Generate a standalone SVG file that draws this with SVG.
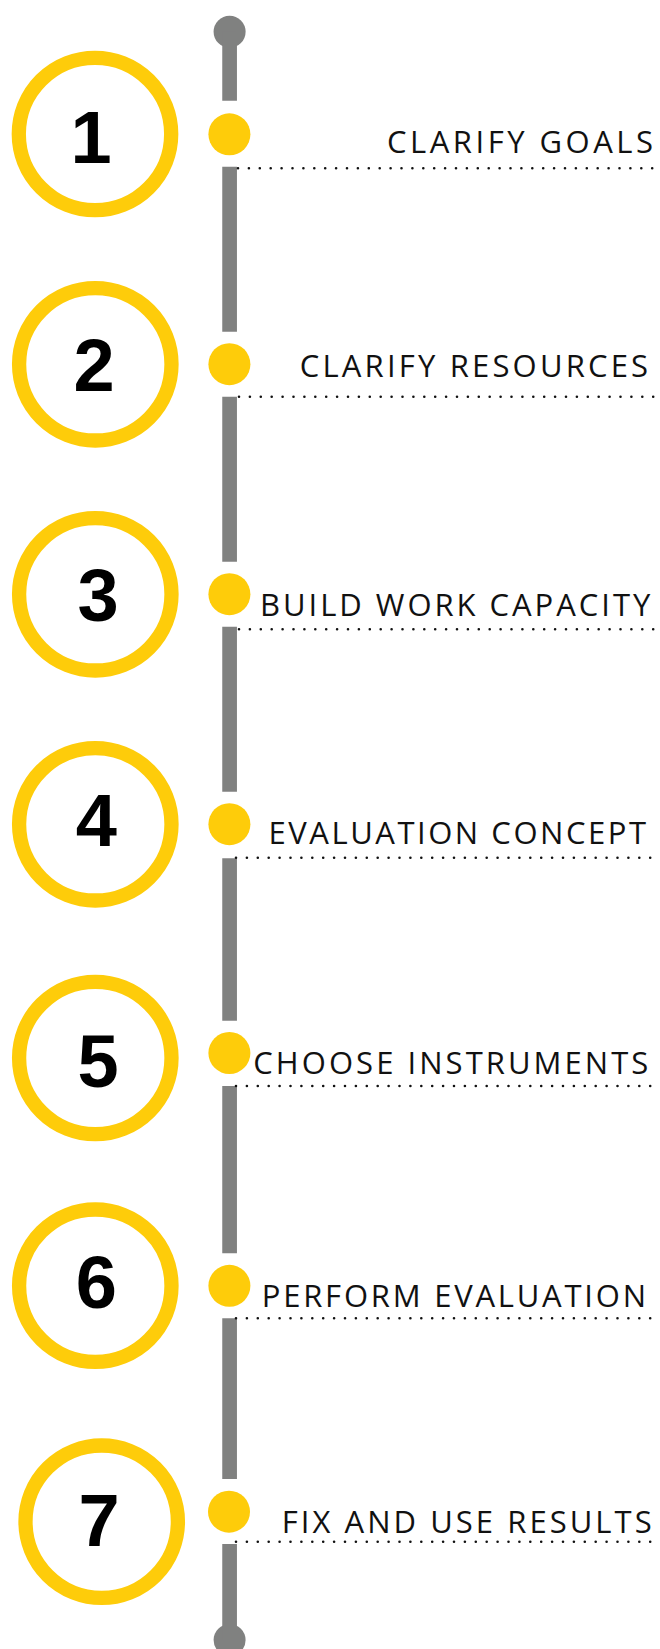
<svg xmlns="http://www.w3.org/2000/svg" width="660" height="1649" viewBox="0 0 660 1649">
<style>
.ring{fill:none;stroke:#FECC0A;stroke-width:14.3}
.dot{fill:#FECC0A}
.num{font-family:"Liberation Sans",Arial,sans-serif;font-weight:bold;font-size:74px;fill:#000;text-anchor:middle}
.lbl{font-family:"Open Sans","Noto Sans",sans-serif;font-size:31px;fill:#111}
.dots{stroke:#111;stroke-width:2.6;stroke-linecap:round;stroke-dasharray:0 10.9;fill:none}
.spine{stroke:#808180;stroke-width:14.7;fill:none}
.cap{fill:#808180}
</style>
<rect width="660" height="1649" fill="#fff"/>
<g id="connectors">
<circle class="cap" cx="229.6" cy="31.7" r="16"/>
<circle class="cap" cx="229.6" cy="1640" r="16"/>
<line class="spine" x1="229.6" y1="31.7" x2="229.6" y2="100.7"/>
<line class="spine" x1="229.6" y1="166.7" x2="229.6" y2="331.7"/>
<line class="spine" x1="229.6" y1="396.7" x2="229.6" y2="561.7"/>
<line class="spine" x1="229.6" y1="626.7" x2="229.6" y2="791.7"/>
<line class="spine" x1="229.6" y1="858.3" x2="229.6" y2="1020.7"/>
<line class="spine" x1="229.6" y1="1086" x2="229.6" y2="1253.3"/>
<line class="spine" x1="229.6" y1="1318.3" x2="229.6" y2="1479"/>
<line class="spine" x1="229.6" y1="1544" x2="229.6" y2="1640"/>
<line class="dots" x1="238" y1="168.3" x2="656" y2="168.3"/>
<line class="dots" x1="239" y1="396.7" x2="656" y2="396.7"/>
<line class="dots" x1="239" y1="629.3" x2="656" y2="629.3"/>
<line class="dots" x1="236" y1="857.7" x2="656" y2="857.7"/>
<line class="dots" x1="236" y1="1086" x2="656" y2="1086"/>
<line class="dots" x1="236" y1="1318.3" x2="656" y2="1318.3"/>
<line class="dots" x1="236" y1="1541.7" x2="656" y2="1541.7"/>
</g>
<g id="step1">
<circle class="ring" cx="95" cy="134" r="76.2"/>
<text class="num" x="91" y="163.3">1</text>
<circle class="dot" cx="229.4" cy="134.3" r="21"/>
<text class="lbl" x="387" y="153.3" textLength="266" lengthAdjust="spacing">CLARIFY GOALS</text>
</g>
<g id="step2">
<circle class="ring" cx="95.3" cy="364.3" r="76.2"/>
<text class="num" x="94" y="390.7">2</text>
<circle class="dot" cx="229.4" cy="364.2" r="21"/>
<text class="lbl" x="299.7" y="377.3" textLength="348.4" lengthAdjust="spacing">CLARIFY RESOURCES</text>
</g>
<g id="step3">
<circle class="ring" cx="95.3" cy="594.3" r="76.2"/>
<text class="num" x="98" y="620.5">3</text>
<circle class="dot" cx="229.4" cy="594.2" r="21"/>
<text class="lbl" x="260" y="615.7" textLength="390.3" lengthAdjust="spacing">BUILD WORK CAPACITY</text>
</g>
<g id="step4">
<circle class="ring" cx="95.3" cy="824.3" r="76.2"/>
<text class="num" x="96.4" y="846">4</text>
<circle class="dot" cx="229.4" cy="824.2" r="21"/>
<text class="lbl" x="268.5" y="844" textLength="377.5" lengthAdjust="spacing">EVALUATION CONCEPT</text>
</g>
<g id="step5">
<circle class="ring" cx="95.3" cy="1058" r="76.2"/>
<text class="num" x="98" y="1086.5">5</text>
<circle class="dot" cx="229.4" cy="1053" r="21"/>
<text class="lbl" x="253.3" y="1074.3" textLength="395" lengthAdjust="spacing">CHOOSE INSTRUMENTS</text>
</g>
<g id="step6">
<circle class="ring" cx="95.3" cy="1285.7" r="76.2"/>
<text class="num" x="96.4" y="1307.5">6</text>
<circle class="dot" cx="229.4" cy="1285.8" r="21"/>
<text class="lbl" x="261.8" y="1307.3" textLength="384.2" lengthAdjust="spacing">PERFORM EVALUATION</text>
</g>
<g id="step7">
<circle class="ring" cx="101.7" cy="1521.7" r="76.2"/>
<text class="num" x="99" y="1546">7</text>
<circle class="dot" cx="229" cy="1511.7" r="21"/>
<text class="lbl" x="281.7" y="1532.7" textLength="370" lengthAdjust="spacing">FIX AND USE RESULTS</text>
</g>
</svg>
